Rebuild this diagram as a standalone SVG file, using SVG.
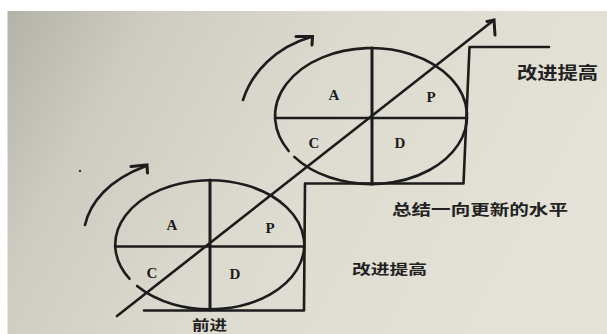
<svg xmlns="http://www.w3.org/2000/svg" width="607" height="334" viewBox="0 0 607 334">
  <defs>
    <linearGradient id="bg" x1="0" y1="0" x2="1" y2="0.3">
      <stop offset="0" stop-color="#b3b3a9"/>
      <stop offset="0.22" stop-color="#cecbc1"/>
      <stop offset="0.55" stop-color="#dddacf"/>
      <stop offset="1" stop-color="#e4e1d7"/>
    </linearGradient>
    <style>
      .ln { fill: none; stroke: #1c1c1c; stroke-width: 2.6; stroke-linecap: round; stroke-linejoin: round; }
      .ax { fill: none; stroke: #1c1c1c; stroke-width: 3; stroke-linecap: round; }
      .lt { font-family: "Liberation Serif", serif; font-weight: bold; font-size: 15px; fill: #1c1c1c; text-anchor: middle; }
      .cj { font-family: "Noto Sans CJK SC", sans-serif; font-weight: bold; fill: #222; }
    </style>
  </defs>
  <rect x="0" y="0" width="607" height="334" fill="#ffffff"/>
  <rect x="7.5" y="11" width="600" height="323" fill="url(#bg)"/>
  <circle cx="80" cy="171" r="1.2" fill="#333"/>

  <g id="cycle-upper">
    <path class="ln" d="M288.7,151 A96,68 0 1 1 294.3,156.9"/>
    <line class="ax" x1="372" y1="48" x2="372" y2="184"/>
    <line class="ln" x1="275" y1="118" x2="467" y2="118"/>
    <text class="lt" x="334" y="100">A</text>
    <text class="lt" x="431" y="102">P</text>
    <text class="lt" x="314" y="148">C</text>
    <text class="lt" x="400" y="148">D</text>
  </g>

  <g id="cycle-lower">
    <path class="ln" d="M129.4,278.7 A94.5,64.5 0 1 1 137.1,286"/>
    <line class="ax" x1="210" y1="180" x2="210" y2="310"/>
    <line class="ln" x1="115" y1="246.5" x2="304" y2="246.5"/>
    <text class="lt" x="172" y="230">A</text>
    <text class="lt" x="270" y="233">P</text>
    <text class="lt" x="152" y="278">C</text>
    <text class="lt" x="235" y="278.5">D</text>
  </g>

  <g id="connectors">
    <polyline class="ln" points="549,47 469.5,47 463.5,183.5 305,183.5 304,310.5 144,310.5"/>
    <line class="ln" x1="117" y1="316" x2="494" y2="20"/>
    <polyline class="ax" points="487,21.5 494,20 495,35"/>
    <path class="ln" d="M243,100 C252,72 276,47 311,37"/>
    <polyline class="ax" points="296,36.5 312.5,36.5 312,45"/>
    <path class="ln" d="M85,225 C90,203 108,180 146,166"/>
    <polyline class="ax" points="131,166.5 147,165 147.5,173"/>
  </g>

  <g id="labels">
    <text class="cj" x="517" y="79" font-size="17" textLength="81" lengthAdjust="spacingAndGlyphs">改进提高</text>
    <text class="cj" x="392" y="215" font-size="15" textLength="176" lengthAdjust="spacingAndGlyphs">总结一向更新的水平</text>
    <text class="cj" x="352" y="274" font-size="14" textLength="75" lengthAdjust="spacingAndGlyphs">改进提高</text>
    <text class="cj" x="192" y="330" font-size="14" textLength="35" lengthAdjust="spacingAndGlyphs">前进</text>
  </g>
</svg>
